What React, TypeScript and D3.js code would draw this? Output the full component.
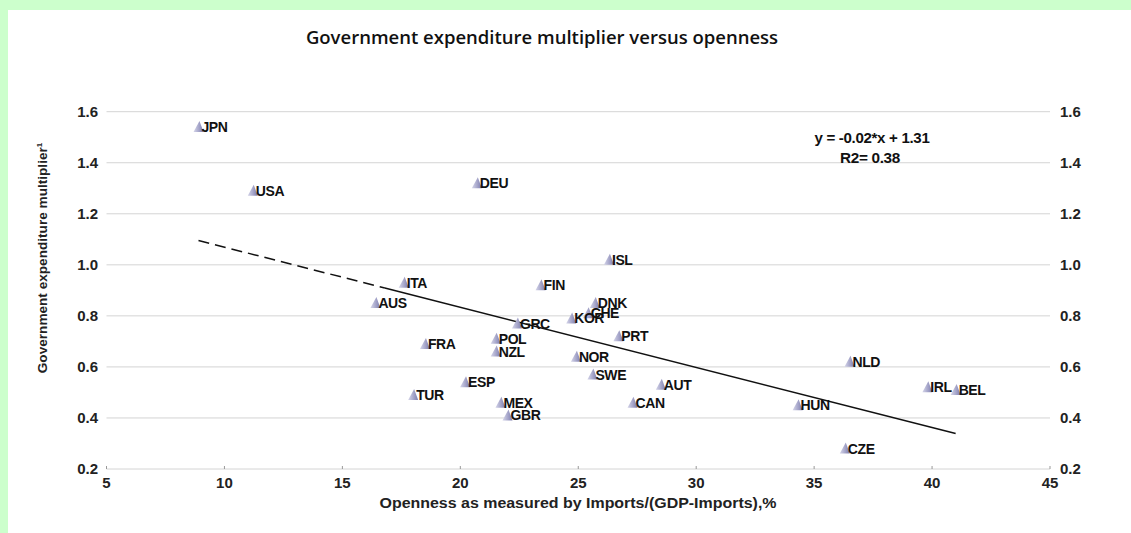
import React from "react";
import * as d3 from "d3";

// OECD countries: openness (imports / (GDP - imports), %) and government expenditure multiplier
const countries = [
  "JPN", "USA", "DEU", "ISL", "ITA", "FIN", "AUS", "DNK", "CHE", "KOR",
  "GRC", "PRT", "POL", "FRA", "NZL", "NOR", "NLD", "SWE", "ESP", "AUT",
  "IRL", "BEL", "TUR", "MEX", "CAN", "HUN", "GBR", "CZE",
];
const openness = [
  8.9, 11.2, 20.7, 26.3, 17.6, 23.4, 16.4, 25.7, 25.4, 24.7,
  22.4, 26.7, 21.5, 18.5, 21.5, 24.9, 36.5, 25.6, 20.2, 28.5,
  39.8, 41.0, 18.0, 21.7, 27.3, 34.3, 22.0, 36.3,
];
const multiplier = [
  1.54, 1.29, 1.32, 1.02, 0.93, 0.92, 0.85, 0.85, 0.81, 0.79,
  0.77, 0.72, 0.71, 0.69, 0.66, 0.64, 0.62, 0.57, 0.54, 0.53,
  0.52, 0.51, 0.49, 0.46, 0.46, 0.45, 0.41, 0.28,
];

const xTicks = [5, 10, 15, 20, 25, 30, 35, 40, 45];
const yTicks = [0.2, 0.4, 0.6, 0.8, 1.0, 1.2, 1.4, 1.6];

const title = "Government expenditure multiplier versus openness";
const xTitle = "Openness as measured by Imports/(GDP-Imports),%";
const yTitle = "Government expenditure multiplier";
const equationLine1 = "y = -0.02*x + 1.31";
const equationLine2 = "R2= 0.38";

// point where the trend line switches from dashed to solid
const dashedUntil = 16.8;

const W = 1131;
const H = 533;

export default function App() {
  const x = d3.scaleLinear().domain([5, 45]).range([106.5, 1050]);
  const y = d3.scaleLinear().domain([0.2, 1.6]).range([469, 111.7]);

  // least-squares fit of multiplier on openness
  const mx = d3.mean(openness) as number;
  const my = d3.mean(multiplier) as number;
  let sxy = 0;
  let sxx = 0;
  openness.forEach((v, i) => {
    sxy += (v - mx) * (multiplier[i] - my);
    sxx += (v - mx) * (v - mx);
  });
  const slope = sxy / sxx;
  const intercept = my - slope * mx;
  const [xMin, xMax] = d3.extent(openness) as [number, number];
  const fit = (v: number) => slope * v + intercept;

  const line = d3
    .line<number>()
    .x((v) => x(v))
    .y((v) => y(fit(v)));

  const font = "'Liberation Sans', Arial, sans-serif";
  const tri = (cx: number, cy: number) =>
    `M${cx - 5},${cy + 5} L${cx + 1},${cy - 6} L${cx + 5},${cy + 5} Z`;

  return (
    <svg
      width={W}
      height={H}
      style={{ position: "fixed", left: 0, top: 0 }}
      xmlns="http://www.w3.org/2000/svg"
    >
      <defs>
        <linearGradient id="mk" x1="0" x2="1" y1="0" y2="0">
          <stop offset="0" stopColor="#d6d6ea" />
          <stop offset="1" stopColor="#7c7cae" />
        </linearGradient>
        <filter id="soft" x="-50%" y="-50%" width="200%" height="200%">
          <feGaussianBlur stdDeviation="0.7" />
        </filter>
      </defs>
      <rect x={0} y={0} width={W} height={H} fill="#ccffcc" />
      <rect x={8} y={10} width={W} height={H} fill="#ffffff" />

      <text
        x={542}
        y={44}
        textAnchor="middle"
        fontFamily="'Open Sans', sans-serif"
        fontWeight={600}
        fontSize={18.5}
        fill="#111"
      >
        {title}
      </text>

      {/* horizontal gridlines */}
      {yTicks.map((t) => (
        <line
          key={"g" + t}
          x1={x(5)}
          x2={x(45)}
          y1={y(t)}
          y2={y(t)}
          stroke="#d4d4d4"
          strokeWidth={1}
        />
      ))}
      {/* x tick marks */}
      {xTicks.map((t) => (
        <line
          key={"xt" + t}
          x1={x(t)}
          x2={x(t)}
          y1={y(0.2) - 3}
          y2={y(0.2)}
          stroke="#999"
          strokeWidth={1}
        />
      ))}

      {/* left and right y tick labels */}
      {yTicks.map((t) => (
        <g key={"yl" + t} fontFamily={font} fontWeight={700} fontSize={15} fill="#222">
          <text x={98} y={y(t) + 5} textAnchor="end">
            {t.toFixed(1)}
          </text>
          <text x={1060} y={y(t) + 5} textAnchor="start">
            {t.toFixed(1)}
          </text>
        </g>
      ))}
      {/* x tick labels */}
      {xTicks.map((t) => (
        <text
          key={"xl" + t}
          x={x(t)}
          y={488}
          textAnchor="middle"
          fontFamily={font}
          fontWeight={700}
          fontSize={15}
          fill="#222"
        >
          {t}
        </text>
      ))}

      <text
        x={578}
        y={508}
        textAnchor="middle"
        fontFamily={font}
        fontWeight={700}
        fontSize={14}
        textLength={397}
        lengthAdjust="spacingAndGlyphs"
        fill="#222"
      >
        {xTitle}
      </text>
      <text
        transform="translate(47,258) rotate(-90)"
        textAnchor="middle"
        fontFamily={font}
        fontWeight={700}
        fontSize={13.5}
        fill="#222"
      >
        <tspan textLength={226} lengthAdjust="spacingAndGlyphs">
          {yTitle}
        </tspan>
        <tspan fontSize={8} dy={-5}>
          1
        </tspan>
      </text>

      {/* trend line: dashed at the low end, solid after */}
      <path
        d={line([xMin, dashedUntil]) as string}
        fill="none"
        stroke="#111"
        strokeWidth={1.5}
        strokeDasharray="11 6"
      />
      <path
        d={line([dashedUntil, xMax]) as string}
        fill="none"
        stroke="#111"
        strokeWidth={1.5}
      />

      {/* markers */}
      <g filter="url(#soft)">
        {countries.map((c, i) => (
          <path
            key={"m" + c}
            d={tri(x(openness[i]), y(multiplier[i]))}
            fill="url(#mk)"
          />
        ))}
      </g>
      {/* country labels */}
      {countries.map((c, i) => (
        <text
          key={"l" + c}
          x={x(openness[i]) + 3}
          y={y(multiplier[i]) + 5}
          fontFamily={font}
          fontWeight={700}
          fontSize={14}
          letterSpacing={-0.4}
          fill="#111"
        >
          {c}
        </text>
      ))}

      <g fontFamily={font} fontWeight={700} fontSize={14} fill="#111" textAnchor="middle">
        <text x={872} y={143} letterSpacing={-0.3} textLength={115} lengthAdjust="spacingAndGlyphs">
          {equationLine1}
        </text>
        <text x={870} y={163} letterSpacing={-0.3} textLength={60} lengthAdjust="spacingAndGlyphs">
          {equationLine2}
        </text>
      </g>
    </svg>
  );
}
